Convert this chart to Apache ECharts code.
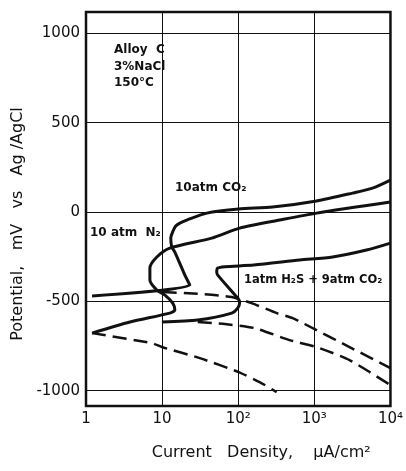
<!DOCTYPE html>
<html>
<head>
<meta charset="utf-8">
<script src="https://cdn.jsdelivr.net/npm/echarts@6/dist/echarts.min.js"></script>
<style>
  html, body { margin: 0; padding: 0; background: #fff; }
  #chart { width: 406px; height: 471px; }
</style>
</head>
<body>
<div id="chart"></div>
<script>
// axis ticks
const xTickLabels = ['1', '10', '10²', '10³', '10⁴']
const yTicks = [-1000, -500, 0, 500, 1000]

// anodic (solid) curves, [current uA/cm2, potential mV]
const n2Anodic = [[1.2, -470], [23.1, -409], [19.9, -353], [14.7, -224], [13.4, -196], [13.0, -146],
  [13.8, -110], [15.1, -78], [17.1, -62], [21.1, -45], [38.6, -6], [101, 17], [283, 28],
  [1070, 62], [3170, 106], [5810, 134], [10000, 179]]
const co2Anodic = [[1.2, -678], [3.78, -616], [12.6, -566], [14.7, -549], [13.8, -510], [10.9, -465],
  [8.53, -437], [6.91, -381], [6.91, -314], [8.53, -252], [12.6, -202], [44.9, -146],
  [104.5, -90], [350, -45], [1070, -6], [10000, 56]]
const h2sAnodic = [[9.93, -616], [29.4, -605], [82.2, -566], [98.4, -538], [104.6, -504], [95.6, -476],
  [53.8, -353], [52.2, -336], [53.8, -314], [66.5, -306], [160, -297], [641, -269],
  [1740, -252], [4840, -213], [10000, -174]]

// cathodic (dashed) curves
const co2Cathodic = [[1.2, -678], [7.34, -734], [9.93, -756], [31.3, -818], [101, -896], [191, -952], [320, -1008]]
const n2Cathodic = [[10.2, -448], [33.2, -459], [82.2, -476], [150, -510], [320, -566], [518, -594],
  [1070, -661], [2900, -756], [10000, -874]]
const h2sCathodic = [[29.4, -616], [66.5, -627], [164.5, -650], [474, -717], [1070, -756], [2900, -829], [10000, -969]]

const font = 'DejaVu Sans'

function solid(name, data) {
  return {
    name: name, type: 'line', data: data, smooth: 0.25, symbol: 'none',
    lineStyle: { color: '#111', width: 3 }
  }
}
function dashed(name, data) {
  return {
    name: name, type: 'line', data: data, smooth: 0.2, symbol: 'none',
    lineStyle: { color: '#111', width: 2.5, type: [14, 7] }
  }
}

const chart = echarts.init(document.getElementById('chart'))
chart.setOption({
  backgroundColor: '#fff',
  animation: false,
  grid: {
    left: 86, right: 15, top: 12, bottom: 65,
    show: true, borderColor: '#111', borderWidth: 2.5
  },
  xAxis: {
    type: 'log',
    logBase: 10,
    min: 1,
    max: 10000,
    name: 'Current   Density,    μA/cm²',
    nameLocation: 'middle',
    nameGap: 39,
    nameTextStyle: { fontFamily: font, fontSize: 16, color: '#111', padding: [0, 0, 0, 46] },
    axisLine: { show: false },
    axisTick: { show: false },
    minorTick: { show: false },
    axisLabel: {
      margin: 6,
      fontFamily: font,
      fontSize: 15,
      color: '#111',
      formatter: v => xTickLabels[Math.round(Math.log10(v))]
    },
    splitLine: { show: true, lineStyle: { color: '#111', width: 1 } }
  },
  yAxis: {
    type: 'value',
    min: -1086,
    max: 1120,
    name: 'Potential,   mV   vs   Ag /AgCl',
    nameLocation: 'middle',
    nameGap: 56,
    nameTextStyle: { fontFamily: font, fontSize: 16, color: '#111', padding: [0, 30, 0, 0] },
    axisLine: { show: false },
    axisTick: { show: false, customValues: yTicks },
    axisLabel: {
      customValues: yTicks,
      margin: 6,
      fontFamily: font,
      fontSize: 15,
      color: '#111',
      formatter: v => String(v)
    },
    splitLine: { show: true, lineStyle: { color: '#111', width: 1 } }
  },
  graphic: [
    {
      type: 'text', x: 114, y: 42,
      style: { text: 'Alloy  C\n3%NaCl\n150°C', fontFamily: font, fontSize: 12, fontWeight: 'bold', fill: '#111', lineHeight: 16.5 }
    },
    {
      type: 'text', x: 175, y: 188,
      style: { text: '10atm CO₂', fontFamily: font, fontSize: 12, fontWeight: 'bold', fill: '#111', verticalAlign: 'middle' }
    },
    {
      type: 'text', x: 90, y: 233,
      style: { text: '10 atm  N₂', fontFamily: font, fontSize: 12, fontWeight: 'bold', fill: '#111', verticalAlign: 'middle' }
    },
    {
      type: 'text', x: 244, y: 280,
      style: { text: '1atm H₂S + 9atm CO₂', fontFamily: font, fontSize: 11.5, fontWeight: 'bold', fill: '#111', verticalAlign: 'middle' }
    }
  ],
  series: [
    solid('10 atm N2', n2Anodic),
    solid('10 atm CO2', co2Anodic),
    solid('1 atm H2S + 9 atm CO2', h2sAnodic),
    dashed('10 atm CO2 cathodic', co2Cathodic),
    dashed('10 atm N2 cathodic', n2Cathodic),
    dashed('1 atm H2S + 9 atm CO2 cathodic', h2sCathodic)
  ]
})
</script>
</body>
</html>
